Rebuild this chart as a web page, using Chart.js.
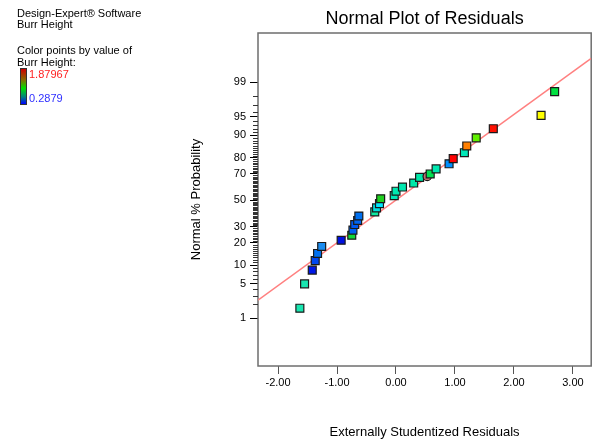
<!DOCTYPE html>
<html>
<head>
<meta charset="utf-8">
<script src="https://cdn.jsdelivr.net/npm/chart.js@4.4.0/dist/chart.umd.min.js"></script>
<style>
  html, body { margin: 0; padding: 0; background: #fff; }
</style>
</head>
<body>
<canvas id="myChart" width="598" height="443"></canvas>
<script>
// residuals (x) and normal % probability (y)
var residuals = [-1.63,-1.55,-1.42,-1.37,-1.33,-1.26,-0.93,-0.75,-0.73,-0.70,-0.65,-0.63,-0.36,-0.33,-0.28,-0.26,-0.03,0.00,0.11,0.30,0.40,0.53,0.58,0.68,0.90,0.97,1.16,1.20,1.36,1.65,2.46,2.69]
var probability = [1.66,4.95,8.4,11.7,14.7,18.1,21.5,24.5,27.8,31.6,34.5,37.8,40.9,44.0,47.4,51.2,53.6,57.1,60.3,63.3,67.4,68.1,69.8,73.2,76.4,79.4,82.6,85.8,89.1,92.1,95.3,98.4]
// colour of each point (by Burr Height)
var pointColors = ['#18e6b0','#18e6b0','#0018e8','#0048f0','#0070f0','#1a8cf0','#0010e0','#10d838',
  '#0060f0','#0058f0','#0064f0','#0070f0','#10e8a0','#00e0e0','#00e8ff','#20d020',
  '#00e8b8','#00e8b0','#00e8b0','#00e8a8','#00e8a8','#c07070','#00e050','#00e8b0',
  '#0090ff','#ff0000','#00e8b8','#ff8000','#60f000','#ff1000','#ffff00','#00e040']
var xTicks = [-2, -1, 0, 1, 2, 3]
var yTicks = [1, 5, 10, 20, 30, 50, 70, 80, 90, 95, 99]
var xMin = -2.34, xMax = 3.31
var fitSlope = 0.844, fitIntercept = 0.005   // reference line, in normal-score units

var font = '"Liberation Sans", Arial, sans-serif'

// inverse normal cdf (Acklam)
function probit(p) {
  var a = [-39.69683028665376, 220.9460984245205, -275.9285104469687, 138.3577518672690, -30.66479806614716, 2.506628277459239]
  var b = [-54.47609879822406, 161.5858368580409, -155.6989798598866, 66.80131188771972, -13.28068155288572]
  var c = [-0.007784894002430293, -0.3223964580411365, -2.400758277161838, -2.549732539343734, 4.374664141464968, 2.938163982698783]
  var d = [0.007784695709041462, 0.3224671290700398, 2.445134137142996, 3.754408661907416]
  var plow = 0.02425, q, r
  if (p < plow) {
    q = Math.sqrt(-2 * Math.log(p))
    return (((((c[0]*q+c[1])*q+c[2])*q+c[3])*q+c[4])*q+c[5]) / ((((d[0]*q+d[1])*q+d[2])*q+d[3])*q+1)
  }
  if (p > 1 - plow) {
    q = Math.sqrt(-2 * Math.log(1 - p))
    return -(((((c[0]*q+c[1])*q+c[2])*q+c[3])*q+c[4])*q+c[5]) / ((((d[0]*q+d[1])*q+d[2])*q+d[3])*q+1)
  }
  q = p - 0.5; r = q * q
  return (((((a[0]*r+a[1])*r+a[2])*r+a[3])*r+a[4])*r+a[5])*q / (((((b[0]*r+b[1])*r+b[2])*r+b[3])*r+b[4])*r+1)
}

var points = residuals.map(function (r, i) { return { x: r, y: probit(probability[i] / 100) } })
var shapes = pointColors.map(function (c, i) { return i === 21 ? 'circle' : 'rect' })
var radii = shapes.map(function (s) { return s === 'circle' ? 4.2 : 5.6 })

var decorations = {
  id: 'decorations',
  beforeDatasetsDraw: function (chart) {
    var c = chart.ctx, a = chart.chartArea
    c.save()
    c.strokeStyle = '#6e6e6e'
    c.lineWidth = 1.5
    c.strokeRect(a.left, a.top, a.right - a.left, a.bottom - a.top)
    // minor ticks on the probability axis
    var ys = chart.scales.y
    c.strokeStyle = '#333'
    c.lineWidth = 1
    for (var p = 2; p <= 98; p++) {
      if (yTicks.indexOf(p) >= 0) continue
      var py = Math.round(ys.getPixelForValue(probit(p / 100))) + 0.5
      c.beginPath()
      c.moveTo(a.left - 5, py)
      c.lineTo(a.left, py)
      c.stroke()
    }
    c.restore()
  },
  afterDraw: function (chart) {
    var c = chart.ctx, a = chart.chartArea
    c.save()
    c.fillStyle = '#000'
    c.textBaseline = 'middle'
    c.textAlign = 'center'
    c.font = '18px ' + font
    c.fillText('Normal Plot of Residuals', (a.left + a.right) / 2, 19)
    c.textAlign = 'left'
    c.font = '11px ' + font
    c.fillText('Design-Expert\u00AE Software', 17, 14)
    c.fillText('Burr Height', 17, 25)
    c.fillText('Color points by value of', 17, 51)
    c.fillText('Burr Height:', 17, 63)
    var g = c.createLinearGradient(0, 69, 0, 104)
    g.addColorStop(0, '#d00000')
    g.addColorStop(0.3, '#8a6a00')
    g.addColorStop(0.55, '#00e000')
    g.addColorStop(0.8, '#008080')
    g.addColorStop(1, '#0000ff')
    c.fillStyle = g
    c.fillRect(21, 69, 5, 35)
    c.strokeStyle = '#333'
    c.lineWidth = 1
    c.strokeRect(20.5, 68.5, 6, 36)
    c.fillStyle = '#ff2020'
    c.fillText('1.87967', 29, 75)
    c.fillStyle = '#3030ff'
    c.fillText('0.2879', 29, 99)
    c.restore()
  }
}

var chartField = document.querySelector('#myChart').getContext('2d')

var myChart = new Chart(chartField, {
  type: 'scatter',
  data: {
    datasets: [{
      data: points,
      backgroundColor: pointColors,
      borderColor: '#1a1a1a',
      borderWidth: 1.2,
      pointStyle: shapes,
      pointRadius: radii,
      pointHoverRadius: radii,
      order: 1
    }, {
      type: 'line',
      data: [{ x: xMin, y: fitSlope * xMin + fitIntercept }, { x: xMax, y: fitSlope * xMax + fitIntercept }],
      borderColor: '#ff8080',
      borderWidth: 1.5,
      pointRadius: 0,
      fill: false,
      order: 2
    }]
  },
  options: {
    responsive: false,
    animation: false,
    devicePixelRatio: 1,
    layout: { padding: { left: 188, top: 33, right: 5, bottom: 0 } },
    plugins: { legend: { display: false }, tooltip: { enabled: false } },
    scales: {
      x: {
        type: 'linear',
        min: xMin,
        max: xMax,
        afterBuildTicks: function (scale) { scale.ticks = xTicks.map(function (v) { return { value: v } }) },
        afterFit: function (scale) { scale.height = 77 },
        ticks: { autoSkip: false, maxRotation: 0, padding: 2, color: '#000', font: { family: font, size: 11 },
          callback: function (v) { return Number(v).toFixed(2) } },
        grid: { drawOnChartArea: false, tickLength: 8, tickColor: '#555', tickWidth: 1 },
        border: { display: false },
        title: { display: true, text: 'Externally Studentized Residuals', color: '#000',
          font: { family: font, size: 13 }, padding: { top: 0, bottom: 3 } }
      },
      y: {
        type: 'linear',
        min: -3.27,
        max: 3.3,
        afterBuildTicks: function (scale) { scale.ticks = yTicks.map(function (p) { return { value: probit(p / 100) } }) },
        afterFit: function (scale) { scale.width = 70 },
        ticks: { autoSkip: false, padding: 4, color: '#000', font: { family: font, size: 11 },
          callback: function (v, i) { return String(yTicks[i]) } },
        grid: { drawOnChartArea: false, tickLength: 8, tickColor: '#000', tickWidth: 1 },
        border: { display: false },
        title: { display: true, text: 'Normal % Probability', color: '#000',
          font: { family: font, size: 13 }, padding: { top: 1, bottom: 0 } }
      }
    }
  },
  plugins: [decorations]
})
</script>
</body>
</html>
